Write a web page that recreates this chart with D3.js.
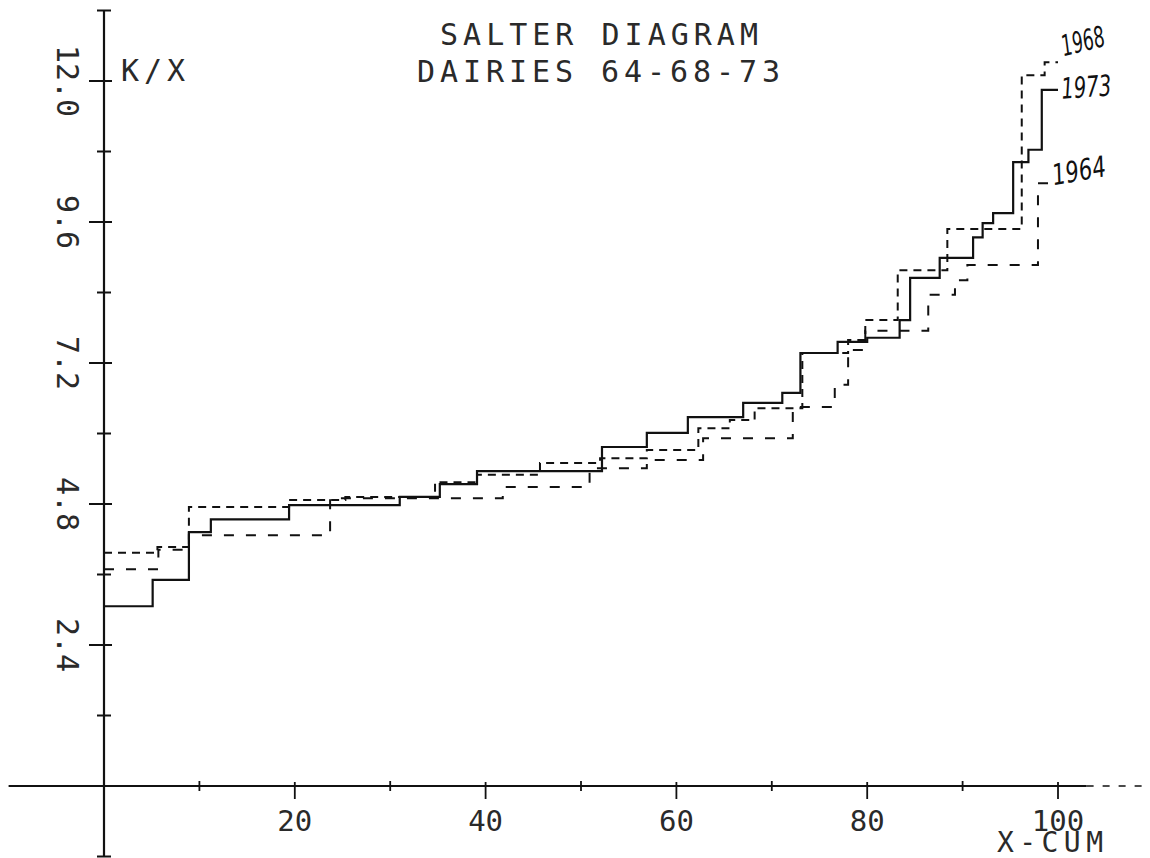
<!DOCTYPE html>
<html><head><meta charset="utf-8">
<script src="https://cdn.jsdelivr.net/npm/d3@7"></script>
<style>html,body{margin:0;padding:0;background:#fff;} svg{display:block;}</style>
</head><body>
<svg id="chart" width="1150" height="858"></svg>
<script>
// ---------- data ----------
const titleLines = ["SALTER DIAGRAM", "DAIRIES 64-68-73"];
const yAxisLabel = "K/X";
const xAxisLabel = "X-CUM";
const seriesNames = ["1968", "1973", "1964"];

// cumulative X share (%) where each step starts (last value = end of series)
const x1973 = [0,5.1,8.9,11.2,19.4,31.0,35.2,39.1,52.2,56.9,61.2,67.0,71.1,73.0,76.9,80.0,83.4,84.5,87.6,91.1,92.1,93.2,95.3,96.9,98.3,100];
const k1973 = [3.06,3.51,4.32,4.54,4.78,4.92,5.14,5.36,5.77,6.01,6.28,6.52,6.69,7.37,7.56,7.63,7.93,8.65,8.99,9.34,9.58,9.75,10.62,10.83,11.85];

const x1968 = [0,5.6,8.9,19.4,25.3,34.7,39.1,45.7,52.0,56.9,62.3,65.6,68.2,73.2,78.0,79.8,83.2,88.4,96.2,98.6,100];
const k1968 = [3.97,4.07,4.75,4.87,4.92,5.17,5.30,5.50,5.58,5.72,6.09,6.23,6.43,7.37,7.59,7.93,8.78,9.48,12.10,12.32];

const x1964 = [0,5.7,8.9,23.7,41.8,50.9,56.9,62.8,72.2,76.6,78.0,79.8,86.4,89.2,90.5,97.9,100];
const k1964 = [3.69,4.02,4.27,4.90,5.09,5.41,5.55,5.92,6.45,6.83,7.42,7.75,8.36,8.61,8.87,10.26];

const xMinorTicks = [10,30,50,70,90];
const xMajorTicks = [20,40,60,80,100];
const xTickLabels = ["20","40","60","80","100"];
const yMinorTicks = [-1.2,1.2,3.6,6.0,8.4,10.8,13.2];
const yMajorTicks = [2.4,4.8,7.2,9.6,12.0];
const yTickLabels = ["2.4","4.8","7.2","9.6","12.0"];

// ---------- drawing ----------
const svg = d3.select("#chart");
const x = d3.scaleLinear().domain([0,100]).range([104,1058]);
const y = d3.scaleLinear().domain([0,12]).range([786,81]);
const ink = "#111";
const textInk = "#2a2a2a";
const font = "'DejaVu Sans Mono', monospace";

// axes lines
svg.append("line").attr("x1",x(0)).attr("x2",x(0)).attr("y1",y(13.2)).attr("y2",y(-1.2))
  .attr("stroke",ink).attr("stroke-width",2.2);
svg.append("line").attr("x1",x(-10)).attr("x2",x(103)).attr("y1",y(0)).attr("y2",y(0))
  .attr("stroke",ink).attr("stroke-width",2.2);
svg.append("line").attr("x1",x(103)).attr("x2",1150).attr("y1",y(0)).attr("y2",y(0))
  .attr("stroke",ink).attr("stroke-width",1.6).attr("stroke-dasharray","7,9");

// y ticks
svg.selectAll(".ymin").data(yMinorTicks).join("line")
  .attr("x1",x(0)-7).attr("x2",x(0)+7).attr("y1",d=>y(d)).attr("y2",d=>y(d))
  .attr("stroke",ink).attr("stroke-width",2);
svg.selectAll(".ymaj").data(yMajorTicks).join("line")
  .attr("x1",x(0)-15).attr("x2",x(0)+8).attr("y1",d=>y(d)).attr("y2",d=>y(d))
  .attr("stroke",ink).attr("stroke-width",2);
svg.selectAll(".ylab").data(yMajorTicks).join("text")
  .attr("transform",(d)=>`translate(67,${y(d)}) rotate(90)`)
  .attr("text-anchor","middle").attr("dominant-baseline","central")
  .attr("font-family",font).attr("font-size",30).attr("fill",textInk)
  .text((d,i)=>yTickLabels[i]);

// x ticks
svg.selectAll(".xmin").data(xMinorTicks).join("line")
  .attr("x1",d=>x(d)).attr("x2",d=>x(d)).attr("y1",y(0)-5).attr("y2",y(0)+5)
  .attr("stroke",ink).attr("stroke-width",1.8);
svg.selectAll(".xmaj").data(xMajorTicks).join("line")
  .attr("x1",d=>x(d)).attr("x2",d=>x(d)).attr("y1",y(0)-4).attr("y2",y(0)+13)
  .attr("stroke",ink).attr("stroke-width",1.8);
svg.selectAll(".xlab").data(xMajorTicks).join("text")
  .attr("x",d=>x(d)).attr("y",y(0)+45)
  .attr("text-anchor","middle").attr("font-family",font).attr("font-size",29)
  .attr("fill",textInk).text((d,i)=>xTickLabels[i]);

// axis labels & title
svg.append("text").attr("x",121).attr("y",81).attr("font-family",font).attr("font-size",30)
  .attr("fill",textInk).attr("textLength",64).attr("lengthAdjust","spacing").text(yAxisLabel);
svg.append("text").attr("x",997).attr("y",852).attr("font-family",font).attr("font-size",28)
  .attr("fill",textInk).attr("textLength",106).attr("lengthAdjust","spacing").text(xAxisLabel);
svg.append("text").attr("x",440).attr("y",45).attr("font-family",font).attr("font-size",30)
  .attr("fill",textInk).attr("textLength",318).attr("lengthAdjust","spacing").text(titleLines[0]);
svg.append("text").attr("x",417).attr("y",82).attr("font-family",font).attr("font-size",30)
  .attr("fill",textInk).attr("textLength",363).attr("lengthAdjust","spacing").text(titleLines[1]);

// step series
function stepPoints(xs, ks){
  const pts = ks.map((k,i)=>[xs[i],k]);
  pts.push([xs[xs.length-1], ks[ks.length-1]]);
  return pts;
}
const line = d3.line().x(d=>x(d[0])).y(d=>y(d[1])).curve(d3.curveStepAfter);
const series = [
  {name:seriesNames[0], xs:x1968, ks:k1968, dash:"8,6", w:2},
  {name:seriesNames[1], xs:x1973, ks:k1973, dash:null, w:2.2},
  {name:seriesNames[2], xs:x1964, ks:k1964, dash:"10,12", w:2}
];
svg.selectAll(".series").data(series).join("path")
  .attr("d",s=>line(stepPoints(s.xs,s.ks)))
  .attr("fill","none").attr("stroke",ink).attr("stroke-width",s=>s.w)
  .attr("stroke-dasharray",s=>s.dash);

// handwritten end labels
const labelOffsets = [
  {dx:6, dy:-6, rot:-14, len:44},
  {dx:4, dy:9, rot:-4, len:50},
  {dx:-4, dy:2, rot:-10, len:54}
];
svg.selectAll(".endlab").data(series).join("text")
  .attr("transform",(s,i)=>{
    const o = labelOffsets[i];
    return `translate(${x(100)+o.dx},${y(s.ks[s.ks.length-1])+o.dy}) rotate(${o.rot})`;
  })
  .attr("font-family","'DejaVu Sans', sans-serif").attr("font-style","italic")
  .attr("font-size",29).attr("fill",ink)
  .attr("textLength",(s,i)=>labelOffsets[i].len).attr("lengthAdjust","spacingAndGlyphs")
  .text(s=>s.name);
</script>
</body></html>
